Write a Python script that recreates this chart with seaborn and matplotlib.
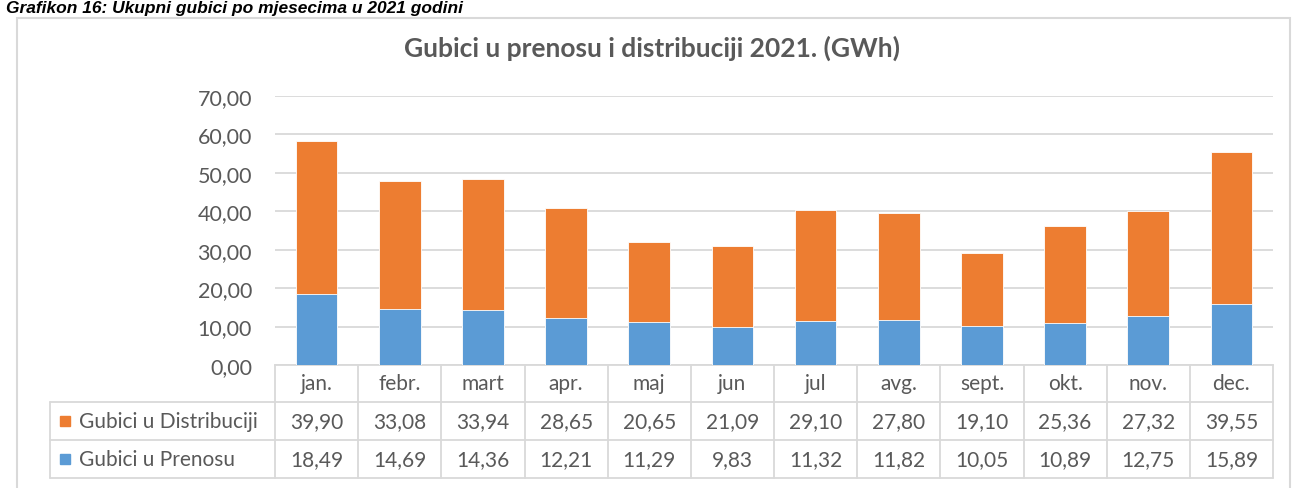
import numpy as np
import pandas as pd
import seaborn as sns
import matplotlib.pyplot as plt
from matplotlib.patches import Rectangle

months = ['jan.', 'febr.', 'mart', 'apr.', 'maj', 'jun', 'jul', 'avg.', 'sept.', 'okt.', 'nov.', 'dec.']
distribucija = [39.90, 33.08, 33.94, 28.65, 20.65, 21.09, 29.10, 27.80, 19.10, 25.36, 27.32, 39.55]
prenos = [18.49, 14.69, 14.36, 12.21, 11.29, 9.83, 11.32, 11.82, 10.05, 10.89, 12.75, 15.89]
series_names = ['Gubici u Distribuciji', 'Gubici u Prenosu']
yticks = [0, 10, 20, 30, 40, 50, 60, 70]

orange = '#ED7D31'
blue = '#5B9BD5'
grey_txt = '#595959'
line_c = '#D9D9D9'

sns.set_theme(style='white')
plt.rcParams['font.family'] = ['Lato', 'DejaVu Sans']

df = pd.DataFrame({'mjesec': months, 'dist': distribucija, 'pren': prenos})
df['ukupno'] = df['dist'] + df['pren']

W, H = 1303, 489
fig = plt.figure(figsize=(W / 100, H / 100), dpi=100)

def fx(px):
    return px / W

def fy(py):
    return 1 - py / H

# outer chart frame
fig.add_artist(Rectangle((fx(17), fy(500)), fx(1290) - fx(17), fy(19) - fy(500),
                         transform=fig.transFigure, fill=False, ec=line_c, lw=1.5))

# caption above the chart
fig.text(fx(6), fy(1), 'Grafikon 16: Ukupni gubici po mjesecima u 2021 godini',
         fontsize=12.5, fontweight='bold', fontstyle='italic', color='black',
         family=['Liberation Sans', 'DejaVu Sans'], va='top', ha='left')

ax = fig.add_axes([fx(275), fy(366), fx(1273) - fx(275), fy(97) - fy(366)])
sns.barplot(data=df, x='mjesec', y='ukupno', color=orange, saturation=1,
            width=0.5, ax=ax, zorder=3)
sns.barplot(data=df, x='mjesec', y='pren', color=blue, saturation=1,
            width=0.5, ax=ax, zorder=3)
for p in ax.patches:
    p.set_edgecolor('white')
    p.set_linewidth(0.6)

ax.set_ylim(0, 70)
ax.set_xlim(-0.5, 11.5)
ax.set_yticks(yticks)
ax.set_yticklabels([f'{v:.2f}'.replace('.', ',') for v in yticks], fontsize=15.5, color=grey_txt)
ax.tick_params(axis='y', length=0, pad=16.5)
ax.set_xticks([])
ax.set_xlabel('')
ax.set_ylabel('')
ax.yaxis.grid(True, color=line_c, lw=1.3, zorder=0)
for s in ['top', 'right', 'left']:
    ax.spines[s].set_visible(False)
ax.spines['bottom'].set_color(line_c)
ax.spines['bottom'].set_linewidth(1.3)

fig.text(0.5, fy(48), 'Gubici u prenosu i distribuciji 2021. (GWh)', ha='center', va='center',
         fontsize=19, fontweight='bold', color=grey_txt)

# data table under the axis
ah = fy(97) - fy(366)
def ay(py):
    return (fy(py) - fy(366)) / ah

trans = ax.get_xaxis_transform()
lk = dict(color=line_c, lw=1.3, clip_on=False)
rows = [366, 403, 441, 479]
for i in range(13):
    ax.plot([i - 0.5, i - 0.5], [ay(366), ay(479)], transform=trans, **lk)
for r in rows[1:]:
    fig.add_artist(plt.Line2D([fx(50), fx(1273)], [fy(r), fy(r)], transform=fig.transFigure,
                              color=line_c, lw=1.3))
fig.add_artist(plt.Line2D([fx(50), fx(50)], [fy(403), fy(479)], transform=fig.transFigure,
                          color=line_c, lw=1.3))

fs = 15
fmt = lambda v: f'{v:.2f}'.replace('.', ',')
for i, m in enumerate(months):
    ax.text(i, ay(384), m, transform=trans, ha='center', va='center', fontsize=fs, color=grey_txt)
    ax.text(i, ay(422), fmt(distribucija[i]), transform=trans, ha='center', va='center',
            fontsize=fs, color=grey_txt)
    ax.text(i, ay(460), fmt(prenos[i]), transform=trans, ha='center', va='center',
            fontsize=fs, color=grey_txt)

for name, col, yc in [(series_names[0], orange, 422), (series_names[1], blue, 460)]:
    fig.add_artist(Rectangle((fx(60), fy(yc + 5)), fx(10), fy(yc - 5) - fy(yc + 5),
                             transform=fig.transFigure, color=col))
    fig.text(fx(79), fy(yc), name, ha='left', va='center', fontsize=fs, color=grey_txt)

fig.savefig('out.png', dpi=100)
